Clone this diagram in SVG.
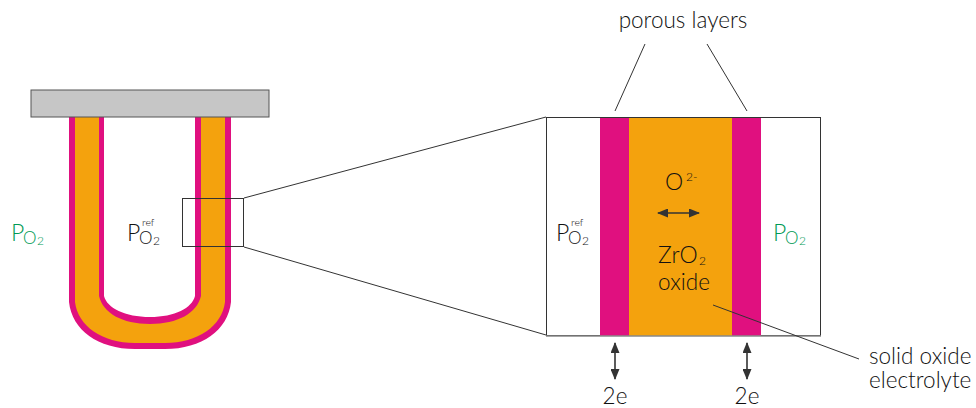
<svg xmlns="http://www.w3.org/2000/svg" width="976" height="408" viewBox="0 0 976 408">
<style>
text{font-family:"Lato","Liberation Sans",sans-serif;fill:#111;font-weight:300}
.t{font-size:22.500px}
.o{font-size:17px}
.b{font-size:23px}
.s{font-size:12px}
.r{font-size:10.500px}
text.g{fill:#009a55}
.l{stroke:#333;stroke-width:1;fill:none}
.a{stroke:#333;stroke-width:1.6;fill:none;marker-start:url(#h);marker-end:url(#h)}
</style>
<defs>
<marker id="h" markerUnits="userSpaceOnUse" viewBox="0 0 11 9" refX="10" refY="4.500" markerWidth="11" markerHeight="9" orient="auto-start-reverse"><path d="M0 0L11 4.500L0 9Z" fill="#333"/></marker>
</defs>
<g id="sensor-tube">
<path d="M69 117V302C72 330 98 349 135 349H165C202 349 228 330 231 302V117H195V296C192 308 175 317 150 317C125 317 107 308 104 296V117Z" fill="#e0107f"/>
<path d="M75 117V302C78 326 102 343 135 343H165C198 343 222 326 225 302V117H201V296C197 313 178 324 150 324C122 324 103 313 99 296V117Z" fill="#f4a20d"/>
</g>
<g id="mount"><rect x="31" y="90" width="238" height="27" fill="#c6c6c6" stroke="#555" stroke-width="1"/></g>
<g id="zoom-box"><rect x="182.500" y="198.500" width="61" height="48" fill="none" stroke="#333"/></g>
<g id="detail">
<rect x="546.500" y="117.500" width="274" height="218" fill="#fff" stroke="#333"/>
<rect x="600" y="118" width="29" height="218" fill="#e0107f"/>
<rect x="629" y="118" width="103" height="218" fill="#f4a20d"/>
<rect x="732" y="118" width="29" height="218" fill="#e0107f"/>
<path d="M546 336H821" stroke="#888" stroke-width="1.500"/>
</g>
<g id="connectors">
<path class="l" d="M244 198L546 117M244 247L546 335M615 111L645 44M747 111L707 44M713 305L859 359"/>
<path class="a" d="M658 213H699"/>
<path class="a" d="M615 343V379"/>
<path class="a" d="M747 343V379"/>
</g>
<g id="labels">
<text class="b g" x="11" y="241">P</text><text class="o g" x="23" y="244">O</text><text class="s g" x="37" y="245">2</text>
<text class="b" x="127" y="241">P</text><text class="o" x="139" y="244">O</text><text class="s" x="153" y="245">2</text><text class="r" x="142" y="226">ref</text>
<text class="b" x="556" y="241">P</text><text class="o" x="568" y="244">O</text><text class="s" x="582" y="245">2</text><text class="r" x="571" y="226">ref</text>
<text class="b g" x="773" y="241">P</text><text class="o g" x="785" y="244">O</text><text class="s g" x="799" y="245">2</text>
<text class="b" x="665" y="190">O</text><text class="s" x="686" y="181">2-</text>
<text class="b" x="658" y="263">ZrO</text><text class="s" x="699" y="265">2</text>
<text class="t" x="684" y="290" text-anchor="middle">oxide</text>
<text class="t" x="683" y="28" text-anchor="middle">porous layers</text>
<text class="t" x="615" y="404" text-anchor="middle">2e</text>
<text class="t" x="747" y="404" text-anchor="middle">2e</text>
<text class="t" x="869" y="364">solid oxide</text>
<text class="t" x="869" y="388">electrolyte</text>
</g>
</svg>
